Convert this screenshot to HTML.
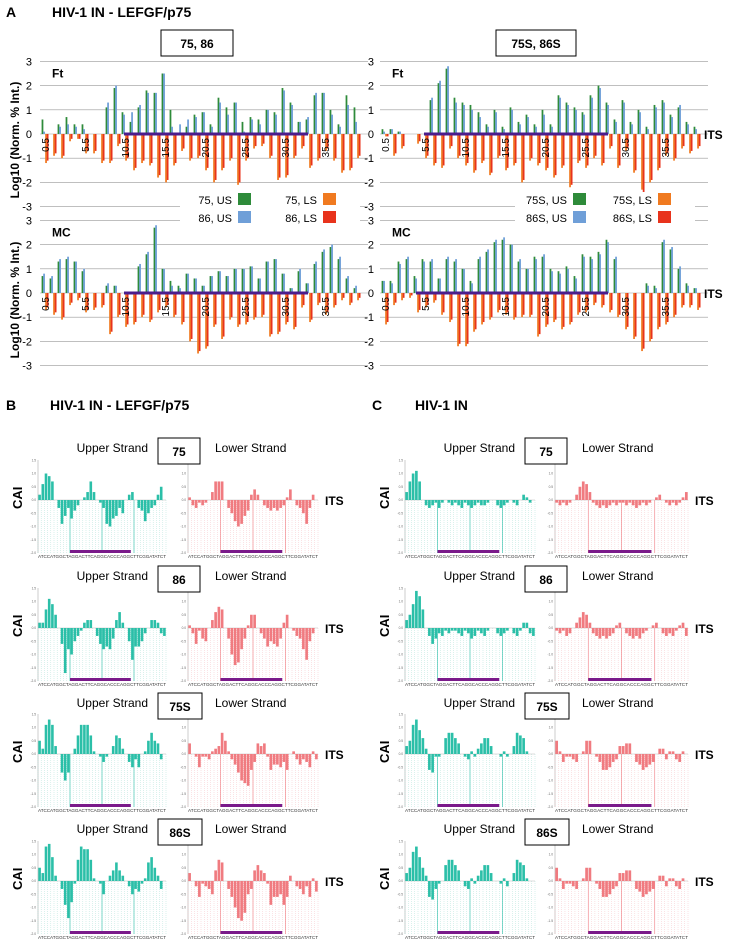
<!DOCTYPE html>
<html><head><meta charset="utf-8"><style>
body{margin:0;background:#fff}
svg{display:block;font-family:"Liberation Sans",Arial,sans-serif}
</style></head><body>
<svg id="fig" width="732" height="945" viewBox="0 0 732 945">
<text x="6" y="17" font-size="14" font-weight="bold">A</text>
<text x="52" y="17" font-size="14" font-weight="bold">HIV-1 IN - LEFGF/p75</text>
<rect x="161" y="30" width="72" height="26" fill="#fff" stroke="#000"/>
<text x="197" y="48" font-size="12" font-weight="bold" text-anchor="middle">75, 86</text>
<rect x="496" y="30" width="80" height="26" fill="#fff" stroke="#000"/>
<text x="536" y="48" font-size="12" font-weight="bold" text-anchor="middle">75S, 86S</text>
<text transform="translate(19,140) rotate(-90)" font-size="12" font-weight="bold" text-anchor="middle">Log10 (Norm. % Int.)</text>
<text transform="translate(19,300) rotate(-90)" font-size="12" font-weight="bold" text-anchor="middle">Log10 (Norm. % Int.)</text>
<text x="6" y="410" font-size="14" font-weight="bold">B</text>
<text x="50" y="410" font-size="14" font-weight="bold">HIV-1 IN - LEFGF/p75</text>
<text x="372" y="410" font-size="14" font-weight="bold">C</text>
<text x="415" y="410" font-size="14" font-weight="bold">HIV-1 IN</text>
<g id="g"></g>
</svg>
<script>
// Panel A data (40 positions, 0.5 .. 39.5)
const posLabels=["0.5","5.5","10.5","15.5","20.5","25.5","30.5","35.5"];
const aTicks=[3,2,1,0,-1,-2,-3];
const ftUS75=[0.6,0,0.4,0.7,0.4,0.4,0,0,1.1,1.9,0.9,0.5,1.1,1.8,1.7,2.5,1.0,0,0.3,0.8,0.9,0.4,1.5,1.1,1.3,0.5,0.7,0.6,1.0,0.9,1.9,1.3,0.5,0.6,1.6,1.7,1.0,0.4,1.6,1.1];
const ftUS86=[0.1,0,0.3,0.4,0.3,0.2,0,0,1.3,2.0,0.8,0.9,1.2,1.7,1.7,2.5,0.3,0.4,0.6,0.7,0.9,0.3,1.3,0.8,1.3,0.1,0.6,0.4,1.0,0.8,1.8,1.2,0.5,0.7,1.7,1.7,0.8,0.3,1.2,0.5];
const ftLS75=[-1.2,-0.9,-1.0,-0.3,-0.2,-0.8,-0.8,-1.2,-1.2,-0.5,-1.1,-1.5,-1.2,-1.3,-1.8,-2.0,-1.3,-0.7,-1.1,-1.0,-1.5,-2.0,-1.5,-1.1,-2.1,-1.1,-0.6,-0.5,-1.0,-1.9,-1.8,-1.0,-0.6,-1.4,-1.1,-0.7,-1.1,-1.6,-1.5,-1.0];
const ftLS86=[-1.1,-0.8,-0.9,-0.2,-0.2,-0.7,-0.7,-1.1,-1.1,-0.4,-1.0,-1.4,-1.1,-1.2,-1.7,-1.9,-1.2,-0.6,-1.0,-0.9,-1.4,-1.9,-1.4,-1.0,-2.0,-1.0,-0.5,-0.4,-0.9,-1.8,-1.7,-0.9,-0.5,-1.3,-1.0,-0.6,-1.0,-1.5,-1.4,-0.9];
const ftsUS75=[0.2,0.2,0.1,0,0,0,1.4,2.1,2.7,1.5,1.3,1.2,0.9,0.4,1.0,0.3,1.1,0.5,0.8,0.4,1.0,0.4,1.6,1.3,1.1,0.9,1.6,2.0,1.3,0.6,1.4,0.5,1.0,0.3,1.2,1.4,0.8,1.1,0.5,0.3];
const ftsUS86=[0.1,0.2,0.1,0,0,0,1.5,2.2,2.8,1.3,1.2,1.0,0.7,0.3,0.9,0.2,1.0,0.4,0.7,0.3,0.8,0.3,1.5,1.2,1.0,0.8,1.5,1.9,1.2,0.5,1.3,0.4,0.9,0.2,1.1,1.3,0.7,1.2,0.4,0.2];
const ftsLS75=[-0.1,-0.9,-0.6,0,-0.4,-1.0,-1.3,-1.4,-0.6,-1.0,-1.3,-1.6,-1.2,-1.7,-1.0,-1.5,-1.3,-2.0,-1.1,-1.3,-1.5,-1.8,-1.4,-2.2,-1.2,-1.4,-1.0,-1.3,-0.6,-1.4,-0.7,-1.6,-2.3,-2.0,-1.5,-0.9,-1.1,-0.6,-0.8,-0.6];
const ftsLS86=[-0.1,-0.8,-0.5,0,-0.3,-0.9,-1.2,-1.3,-0.5,-0.9,-1.2,-1.5,-1.1,-1.6,-0.9,-1.4,-1.2,-1.9,-1.0,-1.2,-1.4,-1.7,-1.3,-2.1,-1.1,-1.3,-0.9,-1.2,-0.5,-1.3,-0.6,-1.5,-2.4,-1.9,-1.4,-0.8,-1.0,-0.5,-0.7,-0.5];
const mcUS75=[0.7,0.6,1.3,1.4,1.3,0.9,0,0,0.3,0.3,0,0,1.1,1.6,2.7,1.0,0.5,0.3,0.8,0.6,0.3,0.7,0.9,0.7,1.0,1.0,1.1,0.6,1.3,1.4,0.8,0.2,0.9,0.4,1.2,1.7,1.9,1.4,0.6,0.2];
const mcUS86=[0.8,0.7,1.4,1.5,1.3,1.0,0,0,0.4,0.3,0,0,1.2,1.7,2.8,1.0,0.3,0.2,0.8,0.6,0.3,0.7,0.9,0.7,1.0,1.0,1.1,0.6,1.3,1.4,0.8,0.2,1.0,0.4,1.3,1.8,2.0,1.5,0.7,0.3];
const mcLS75=[-0.7,-0.9,-1.1,-0.5,-0.3,-0.8,-0.7,-0.6,-1.7,-1.0,-1.4,-1.3,-1.0,-1.2,-0.8,-0.6,-1.0,-1.3,-2.0,-2.5,-2.3,-1.4,-1.9,-1.1,-1.4,-1.3,-1.1,-1.0,-1.8,-1.7,-1.3,-1.5,-0.6,-1.2,-0.5,-0.9,-0.6,-0.3,-0.5,-0.3];
const mcLS86=[-0.6,-0.8,-1.0,-0.4,-0.2,-0.7,-0.6,-0.5,-1.6,-0.9,-1.3,-1.2,-0.9,-1.1,-0.7,-0.5,-0.9,-1.2,-1.9,-2.4,-2.2,-1.3,-1.8,-1.0,-1.3,-1.2,-1.0,-0.9,-1.7,-1.6,-1.2,-1.4,-0.5,-1.1,-0.4,-0.8,-0.5,-0.2,-0.4,-0.2];
const mcsUS75=[0.5,0.5,1.3,1.4,0.7,1.4,1.3,0.6,1.4,1.3,1.0,0.5,1.4,1.7,2.1,2.2,2.0,1.3,1.0,1.5,1.5,1.0,0.9,1.1,0.7,1.6,1.5,1.7,2.2,1.4,0,0,0,0.4,0.3,2.1,1.8,1.0,0.4,0.2];
const mcsUS86=[0.5,0.4,1.2,1.5,0.6,1.3,1.4,0.6,1.5,1.4,1.0,0.4,1.5,1.8,2.2,2.3,2.0,1.4,1.0,1.4,1.6,0.9,0.8,1.0,0.6,1.5,1.4,1.6,2.1,1.5,0,0,0,0.3,0.2,2.2,1.9,1.1,0.3,0.2];
const mcsLS75=[-1.3,-0.5,-0.3,-0.2,-0.8,-0.6,-0.4,-0.9,-1.2,-2.2,-2.2,-1.6,-1.3,-1.1,-0.8,-0.9,-1.1,-1.0,-1.0,-1.8,-1.4,-1.2,-1.5,-1.3,-0.9,-0.8,-0.5,-0.6,-0.8,-1.0,-1.5,-1.9,-2.4,-2.0,-1.5,-1.3,-1.0,-0.6,-0.6,-0.7];
const mcsLS86=[-1.2,-0.4,-0.2,-0.1,-0.7,-0.5,-0.3,-0.8,-1.1,-2.1,-2.1,-1.5,-1.2,-1.0,-0.7,-0.8,-1.0,-0.9,-0.9,-1.7,-1.3,-1.1,-1.4,-1.2,-0.8,-0.7,-0.4,-0.5,-0.7,-0.9,-1.4,-1.8,-2.3,-1.9,-1.4,-1.2,-0.9,-0.5,-0.5,-0.6];

// Panels B/C CAI data
const caiTicks=["1.5","1.0","0.5","0.0","-0.5","-1.0","-1.5","-2.0"];
const b75U=[0.2,0.6,1.0,0.9,0.7,0,-0.3,-0.9,-0.6,-0.3,-0.7,-0.4,-0.2,0,0.1,0.3,0.7,0.3,0,-0.1,-0.3,-0.9,-1.0,-0.7,-0.6,-0.3,-0.5,0,0.2,0.3,0,-0.3,-0.4,-0.8,-0.5,-0.3,-0.2,0.2,0.5,0];
const b75L=[0.1,-0.2,-0.3,-0.1,-0.2,-0.1,0,0.3,0.7,0.7,0.7,0,-0.3,-0.5,-0.8,-1.0,-0.9,-0.6,-0.4,0.2,0.4,0.2,0,-0.2,-0.3,-0.4,-0.3,-0.4,-0.3,-0.2,0.1,0.4,0,-0.2,-0.3,-0.5,-0.9,-0.3,0.2,0];
const b86U=[0.2,0.2,0.7,1.1,0.9,0.5,0,-0.6,-1.7,-0.8,-1.0,-0.5,-0.3,-0.1,0.2,0.3,0.3,0,-0.3,-0.6,-0.8,-0.7,-0.8,-0.4,0.3,0.6,0.2,0,-0.5,-1.2,-0.7,-0.7,-0.5,-0.2,0,0.3,0.3,0.2,-0.2,-0.3];
const b86L=[0.1,-0.2,-0.6,-0.1,-0.4,-0.5,0,0.3,0.6,0.8,0.7,0,-0.4,-1.0,-1.4,-1.3,-0.8,-0.4,0.1,0.5,0.5,0,-0.2,-0.4,-0.7,-0.5,-0.6,-0.7,-0.4,0.2,0.5,0,-0.1,-0.3,-0.4,-0.8,-1.2,-0.5,-0.2,0];
const b75sU=[0.5,0.2,1.1,1.3,1.1,0.3,0,-0.7,-1.0,-0.7,0,0.2,0.7,1.1,1.1,1.1,0.7,0.1,0,-0.1,-0.3,-0.1,0,0.3,0.7,0.6,0.2,0,-0.3,-0.5,-0.2,-0.5,0,0.1,0.5,0.8,0.5,0.4,-0.2,0];
const b75sL=[0.4,0,-0.1,-0.5,-0.1,-0.1,-0.2,0.1,0.2,0.3,0.8,0.5,0.1,-0.2,-0.4,-0.7,-1.0,-1.1,-1.2,-0.6,-0.3,0.4,0.3,0.4,-0.1,-0.6,-0.4,-0.4,-0.5,-0.3,-0.6,0,0.1,-0.2,-0.4,-0.2,-0.3,-0.5,0.1,-0.2];
const b86sU=[0.5,0.3,1.3,1.4,0.9,0.2,0,-0.3,-0.9,-1.4,-0.8,-0.1,0.8,1.3,1.2,1.2,0.8,0.1,0,-0.1,-0.5,0,0.2,0.4,0.7,0.4,0.2,0,-0.2,-0.5,-0.3,-0.4,-0.1,0.1,0.7,0.9,0.5,0.2,-0.3,0];
const b86sL=[0.3,0,-0.2,-0.6,-0.1,-0.2,-0.3,-0.5,0.4,0.8,0.7,0,-0.3,-0.6,-1.0,-1.4,-1.5,-1.2,-0.5,-0.3,0.4,0.6,0.4,0.3,-0.1,-0.9,-0.6,-0.6,-0.5,-0.9,-0.6,0.2,0,-0.2,-0.3,-0.5,-0.2,-0.6,0.1,-0.4];
const c75U=[0.3,0.7,1.0,1.1,0.7,0,-0.2,-0.3,-0.2,-0.1,-0.3,-0.1,0,-0.1,-0.2,-0.1,-0.2,-0.3,-0.1,-0.2,-0.3,-0.2,-0.1,-0.2,-0.2,-0.1,0,0,-0.2,-0.3,-0.2,-0.1,0,-0.1,-0.2,0,0.2,0.1,-0.1,0];
const c75L=[-0.1,-0.2,-0.1,-0.2,-0.1,0,0.2,0.5,0.7,0.6,0.3,-0.1,-0.2,-0.3,-0.2,-0.3,-0.2,-0.1,-0.2,-0.1,-0.1,-0.2,-0.1,-0.2,-0.3,-0.2,-0.1,-0.2,-0.1,0,0.1,0.2,0,-0.1,-0.2,-0.1,-0.2,-0.1,0.1,0.3];
const c86U=[0.3,0.5,0.9,1.4,1.2,0.7,0,-0.3,-0.6,-0.4,-0.2,-0.3,-0.1,-0.2,-0.1,-0.1,-0.2,-0.3,-0.1,-0.2,-0.4,-0.3,-0.1,-0.2,-0.3,-0.1,0,0,-0.2,-0.3,-0.2,-0.1,0,-0.2,-0.3,-0.1,0.2,0.2,-0.2,-0.3];
const c86L=[-0.1,-0.2,-0.1,-0.3,-0.2,0,0.2,0.4,0.6,0.5,0.2,-0.2,-0.3,-0.4,-0.3,-0.4,-0.3,-0.2,0.1,0.2,0,-0.2,-0.3,-0.4,-0.3,-0.4,-0.2,-0.1,0,0.1,0.2,0,-0.2,-0.3,-0.2,-0.3,-0.1,0.1,0.2,-0.3];
const c75sU=[0.3,0.5,1.1,1.3,0.9,0.6,0.2,-0.6,-0.7,-0.1,-0.1,0,0.6,0.8,0.8,0.6,0.4,0,-0.1,-0.2,0.1,-0.1,0.2,0.4,0.6,0.6,0.3,0,0,-0.1,0.1,-0.1,0,0.3,0.8,0.7,0.6,0.1,0,0];
const c75sL=[0.5,0.1,-0.3,-0.1,-0.1,-0.2,-0.3,0,0.1,0.5,0.5,0,-0.1,-0.3,-0.6,-0.6,-0.5,-0.3,-0.2,0.3,0.3,0.4,0.4,0,-0.3,-0.4,-0.6,-0.5,-0.4,-0.3,0,0.2,0.2,-0.2,0.1,0.1,-0.2,-0.3,0.1,0];
const c86sU=[0.3,0.5,1.1,1.3,0.9,0.5,0.2,-0.6,-0.7,-0.3,-0.1,0,0.6,0.8,0.8,0.6,0.4,0,-0.2,-0.3,0.1,-0.1,0.2,0.4,0.6,0.6,0.3,0,0,-0.1,0.1,-0.2,0,0.3,0.8,0.7,0.6,0.1,0,0];
const c86sL=[0.5,0.1,-0.3,-0.1,-0.1,-0.2,-0.3,0,0.1,0.5,0.5,0,-0.1,-0.3,-0.6,-0.6,-0.5,-0.3,-0.2,0.3,0.3,0.4,0.4,0,-0.3,-0.4,-0.6,-0.5,-0.4,-0.3,0,0.2,0.2,-0.2,0.1,0.1,-0.2,-0.3,0.1,0];

const NS="http://www.w3.org/2000/svg";
const G=document.getElementById('g');
function mk(tag,attrs,parent){const e=document.createElementNS(NS,tag);for(const k in attrs)e.setAttribute(k,attrs[k]);(parent||G).appendChild(e);return e;}
function txt(x,y,s,size,attrs){const e=mk('text',Object.assign({x:x,y:y,'font-size':size},attrs||{}));e.textContent=s;return e;}

function chartA(x0,x1,zero,unit,us75,us86,ls75,ls86,lab,pur,right){
  const n=us75.length, step=(x1-x0)/n;
  const xs=i=>x0+i*step, ys=v=>zero-v*unit;
  aTicks.forEach(t=>{
    const l=mk('line',{x1:x0,x2:x1+8,y1:ys(t),y2:ys(t),stroke:'#999','stroke-width':0.6});
    
    
    const tt=txt(right?x0-6:x0-8,ys(t)+4,String(t),11,{'text-anchor':'end'});
    
    
  });
  for(let i=0;i<n;i++){
    const bw=Math.max(1.4,step*0.22), cx=xs(i)+step*0.2;
    [[us75,'#2e8b3a',0],[us86,'#6f9fd8',1],[ls75,'#f07a20',2],[ls86,'#e8331c',3]].forEach(([arr,c,k])=>{
      const v=arr[i]; if(!v) return;
      const bx=cx+k*bw*0.9+(k>=2?step*0.05:0);
      const r=mk('rect',{x:bx,y:Math.min(ys(v),zero),width:bw,height:Math.abs(v*unit),fill:c});
      
      
    });
  }
  const p=mk('line',{x1:xs(pur[0]),x2:xs(pur[1]),y1:zero,y2:zero,stroke:'#4b1d8c','stroke-width':3});
  
  
  posLabels.forEach((s,k)=>{
    const x=xs(k*5)+step*0.6;
    const t=txt(0,0,s,10,{transform:`translate(${x+4},${zero+4}) rotate(-90)`,'text-anchor':'end'});
    
    
  });
  const l=txt(x0+12,ys(2.5)+4,lab,12,{'font-weight':'bold'});
  
  
}
chartA(40,360,134,24.2,ftUS75,ftUS86,ftLS75,ftLS86,'Ft',[10.5,33.5],false);
chartA(380,700,134,24.2,ftsUS75,ftsUS86,ftsLS75,ftsLS86,'Ft',[5.5,28.5],true);
chartA(40,360,293,24.2,mcUS75,mcUS86,mcLS75,mcLS86,'MC',[10.5,33.5],false);
chartA(380,700,293,24.2,mcsUS75,mcsUS86,mcsLS75,mcsLS86,'MC',[4.5,28.5],true);
[[134,'its-label-ft'],[293,'its-label-mc']].forEach(([y,n])=>{const t=txt(704,y+5,'ITS',12,{'font-weight':'bold'});});

// legends
function legend(x,y,names){
  const bg=mk('rect',{x:x,y:y,width:180,height:36,fill:'#fff'});
  
  
  const cols=['#2e8b3a','#f07a20','#6f9fd8','#e8331c'];
  names.forEach((s,k)=>{
    const cx=x+(k%2)*85, cy=y+(k<2?12:30);
    const t=txt(cx+52,cy,s,11,{'text-anchor':'end'});
    
    
    const r=mk('rect',{x:cx+58,y:cy-11,width:13,height:12,fill:cols[k]});
    
    
  });
}
legend(180,192,['75, US','75, LS','86, US','86, LS']);
legend(515,192,['75S, US','75S, LS','86S, US','86S, LS']);

// CAI mini charts
function chartB(x0,x1,zero,vals,color,grid,name){
  const u=26.5,n=vals.length,step=(x1-x0)/n;
  const g=mk('g',{});
  
  
  mk('line',{x1:x0,x2:x0,y1:zero-40,y2:zero+53,stroke:'#999','stroke-width':0.5},g);
  caiTicks.forEach((s,k)=>{txt(x0-2,zero-39.75+k*13.25+1,s,3.2,{'text-anchor':'end',fill:'#666'});});
  for(let i=0;i<=n;i++) mk('line',{x1:x0+i*step,x2:x0+i*step,y1:zero,y2:zero+53,stroke:grid,'stroke-width':0.4,'stroke-dasharray':'1,1'},g);
  [10,20,30].forEach(i=>mk('line',{x1:x0+i*step,x2:x0+i*step,y1:zero,y2:zero+53,stroke:color,'stroke-width':0.6},g));
  mk('line',{x1:x0,x2:x1,y1:zero,y2:zero,stroke:'#bbb','stroke-width':0.5},g);
  vals.forEach((v,i)=>{
    const r=mk('rect',{x:x0+i*step+0.3,y:v>0?zero-v*u:zero,width:step-0.6,height:Math.abs(v*u),fill:color},g);
    
    
  });
  mk('rect',{x:x0+step*10,y:zero+50,width:step*19,height:3,fill:'#7a1a8a'},g);
  txt(x0,zero+58,'ATCCATGGCTAGGACTTCAGGCACCCAGGCTTCGGATATCT',4.6,{textLength:x1-x0,fill:'#333'});
}
const rowsZ=[500,628,754,881], hdr=[452,580,707,833], tags=['75','86','75S','86S'];
const Bd=[[b75U,b75L],[b86U,b86L],[b75sU,b75sL],[b86sU,b86sL]];
const Cd=[[c75U,c75L],[c86U,c86L],[c75sU,c75sL],[c86sU,c86sL]];
[[38,166,188,318,158,Bd,'b'],[405,535,555,688,525,Cd,'c']].forEach(([ux0,ux1,lx0,lx1,bx,D,p])=>{
  rowsZ.forEach((z,r)=>{
    chartB(ux0,ux1,z,D[r][0],'#2bbfa8','#9fdccf',`${p}-${tags[r]}-upper-chart`);
    chartB(lx0,lx1,z,D[r][1],'#f07b80','#f5b8ba',`${p}-${tags[r]}-lower-chart`);
    const h=hdr[r];
    txt(bx-10,h,'Upper Strand',12,{'text-anchor':'end'});
    txt(bx+57,h,'Lower Strand',12);
    const w=tags[r].length>2?44:42;
    mk('rect',{x:bx,y:h-14,width:w,height:26,fill:'#fff',stroke:'#000'});
    txt(bx+w/2,h+4,tags[r],12,{'text-anchor':'middle','font-weight':'bold'});
    txt(lx1+7,z+5,'ITS',12,{'font-weight':'bold'});
    txt(0,0,'CAI',13,{'font-weight':'bold',transform:`translate(${ux0-16},${z+9}) rotate(-90)`});
  });
});
</script>
</body></html>
